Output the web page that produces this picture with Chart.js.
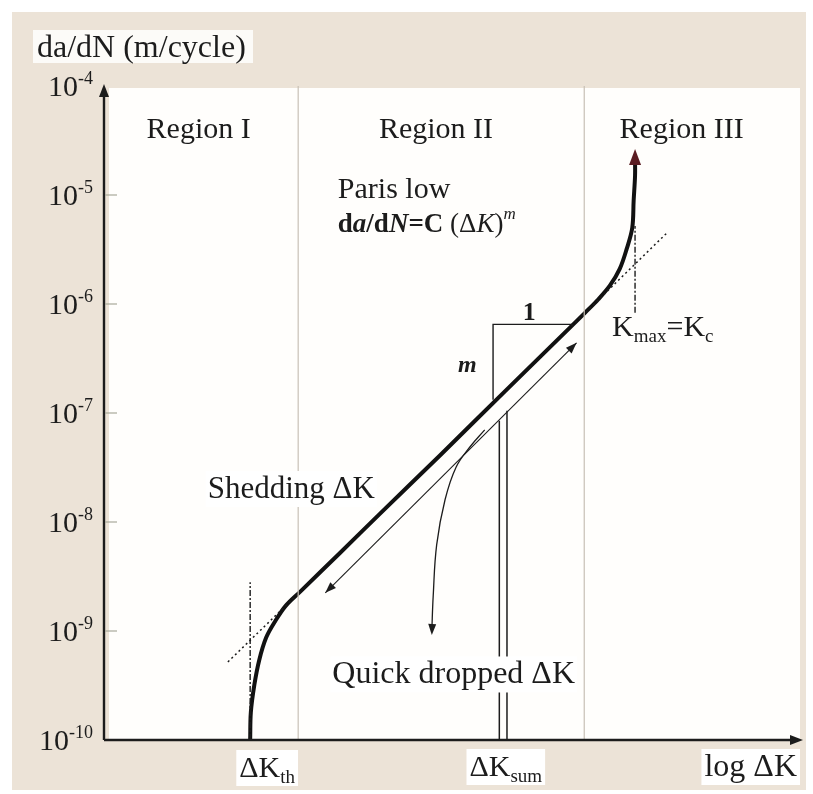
<!DOCTYPE html>
<html>
<head>
<meta charset="utf-8">
<script src="https://cdn.jsdelivr.net/npm/chart.js@4/dist/chart.umd.min.js"></script>
<style>
  body { margin: 0; background: #fff; }
  canvas { display: block; }
</style>
</head>
<body>
<canvas id="chart" width="813" height="794"></canvas>
<script>
// DATA (x = log dK in arbitrary units, y = da/dN in m/cycle)
const yTickValues = [1e-4, 1e-5, 1e-6, 1e-7, 1e-8, 1e-9, 1e-10];
const yTickExponents = ['-4', '-5', '-6', '-7', '-8', '-9', '-10'];
const xTickValues = [2.10, 5.73, 10];
const xTickLabels = [['\u0394K', 'th'], ['\u0394K', 'sum'], ['log \u0394K', '']];

const regionNames = ['Region I', 'Region II', 'Region III'];
const regionCentres = [1.36, 4.77, 8.30];
const regionBounds = [2.79, 6.90];

// main crack growth curve
const curveLogK = [2.10, 2.11, 2.16, 2.23, 2.33, 2.46, 2.61, 2.82, 3.39, 3.97, 4.83, 5.76, 6.72, 6.91, 7.10, 7.27, 7.41, 7.51, 7.59, 7.61, 7.63, 7.63];
const curveRate = [1.0e-10, 1.8e-10, 3.2e-10, 5.4e-10, 8.7e-10, 1.23e-9, 1.7e-9, 2.3e-9, 5.2e-9, 1.2e-8, 4.1e-8, 1.58e-7, 6.3e-7, 8.3e-7, 1.1e-6, 1.48e-6, 2.1e-6, 3.2e-6, 5.0e-6, 8.9e-6, 1.5e-5, 2.1e-5];

// dotted Paris extensions
const lowDotK = [1.78, 2.82];
const lowDotRate = [5.2e-10, 2.3e-9];
const highDotK = [6.72, 8.09];
const highDotRate = [6.3e-7, 4.5e-6];

// dash-dot markers for dK_th and K_c
const thMarkK = [2.10, 2.10];
const thMarkRate = [1e-10, 2.8e-9];
const kcMarkK = [7.63, 7.63];
const kcMarkRate = [8.3e-7, 5.2e-6];

// slope triangle
const triK = [5.59, 5.59, 6.72];
const triRate = [1.32e-7, 6.5e-7, 6.5e-7];

// dK_sum double line
const sumK = [5.68, 5.79];
const sumTopRate = [8.5e-8, 1.05e-7];

// shedding arrow and quick drop arrow
const shedK = [3.18, 6.79];
const shedRate = [2.24e-9, 4.4e-7];
const dropK = [5.47, 5.26, 5.06, 4.90, 4.78, 4.73, 4.71];
const dropRate = [7.0e-8, 4.9e-8, 3.2e-8, 1.6e-8, 6.2e-9, 2.1e-9, 1.0e-9];

const SERIF = '"Liberation Serif", "DejaVu Serif", serif';
const ink = '#1c1c1c';

function pts(xs, ys) {
    return xs.map((x, i) => ({x: x, y: ys[i]}));
}

function line(xs, ys, opts) {
    return Object.assign({
        data: pts(xs, ys),
        borderColor: ink,
        borderWidth: 1.3,
        pointRadius: 0,
        fill: false,
        tension: 0,
    }, opts || {});
}

const datasets = [
    line([regionBounds[0], regionBounds[0]], [1e-10, 1e-4], {borderColor: '#c8c0b6', borderWidth: 1.2}),
    line([regionBounds[1], regionBounds[1]], [1e-10, 1e-4], {borderColor: '#c8c0b6', borderWidth: 1.2}),
    line(lowDotK, lowDotRate, {borderDash: [2, 3], borderWidth: 1.5}),
    line(highDotK, highDotRate, {borderDash: [2, 3], borderWidth: 1.5}),
    line(thMarkK, thMarkRate, {borderDash: [6, 2, 2, 2], borderWidth: 1.4}),
    line(kcMarkK, kcMarkRate, {borderDash: [6, 2, 2, 2], borderWidth: 1.4}),
    line(triK, triRate, {borderWidth: 1.4}),
    line([sumK[0], sumK[0]], [1e-10, sumTopRate[0]], {borderWidth: 1.5}),
    line([sumK[1], sumK[1]], [1e-10, sumTopRate[1]], {borderWidth: 1.5}),
    line(shedK, shedRate, {borderWidth: 1.1}),
    line(dropK, dropRate, {borderWidth: 1.3, tension: 0.4}),
    line(curveLogK, curveRate, {borderWidth: 4, tension: 0.35, borderColor: '#111'}),
];

function arrowHead(ctx, x1, y1, x2, y2, len, half, color) {
    const a = Math.atan2(y2 - y1, x2 - x1);
    ctx.save();
    ctx.fillStyle = color;
    ctx.beginPath();
    ctx.moveTo(x2, y2);
    ctx.lineTo(x2 - len * Math.cos(a) + half * Math.sin(a), y2 - len * Math.sin(a) - half * Math.cos(a));
    ctx.lineTo(x2 - len * Math.cos(a) - half * Math.sin(a), y2 - len * Math.sin(a) + half * Math.cos(a));
    ctx.closePath();
    ctx.fill();
    ctx.restore();
}

// parts: [text, size, style, dy]
function drawRich(ctx, parts, x, y, align, pad) {
    let widths = [];
    let total = 0;
    parts.forEach(p => {
        ctx.font = (p[2] || '') + ' ' + p[1] + 'px ' + SERIF;
        const w = ctx.measureText(p[0]).width;
        widths.push(w);
        total += w;
    });
    let sx = x;
    if (align === 'center') sx = x - total / 2;
    if (align === 'right') sx = x - total;
    if (pad !== undefined) {
        ctx.fillStyle = '#fff';
        ctx.fillRect(sx - pad, y - 27, total + pad * 2, 36);
    }
    ctx.fillStyle = ink;
    ctx.textBaseline = 'alphabetic';
    ctx.textAlign = 'left';
    parts.forEach((p, i) => {
        ctx.font = (p[2] || '') + ' ' + p[1] + 'px ' + SERIF;
        ctx.fillText(p[0], sx, y + (p[3] || 0));
        sx += widths[i];
    });
}

const decorPlugin = {
    id: 'decor',
    beforeDraw(chart) {
        const ctx = chart.ctx;
        const a = chart.chartArea;
        ctx.save();
        ctx.fillStyle = '#fff';
        ctx.fillRect(0, 0, chart.width, chart.height);
        ctx.fillStyle = '#ece3d7';
        ctx.fillRect(12, 12, 794, 778);
        ctx.fillStyle = '#fffefc';
        ctx.fillRect(a.left + 5, a.top + 2, a.right - a.left - 5, a.bottom - a.top - 2);
        ctx.restore();
    },
    afterDatasetsDraw(chart) {
        const ctx = chart.ctx;
        const a = chart.chartArea;
        const xs = chart.scales.x;
        const ys = chart.scales.y;
        const px = v => xs.getPixelForValue(v);
        const py = v => ys.getPixelForValue(v);

        // arrow heads on the marks
        const n = curveLogK.length;
        const tipX = px(curveLogK[n - 1]);
        const tipY = py(curveRate[n - 1]);
        arrowHead(ctx, tipX, tipY + 5, tipX, tipY - 11, 16, 6, '#5a1c22');
        arrowHead(ctx, px(shedK[1]), py(shedRate[1]), px(shedK[0]), py(shedRate[0]), 11, 4, ink);
        arrowHead(ctx, px(shedK[0]), py(shedRate[0]), px(shedK[1]), py(shedRate[1]), 11, 4, ink);
        const m = dropK.length;
        arrowHead(ctx, px(dropK[m - 2]), py(dropRate[m - 2]), px(dropK[m - 1]), py(dropRate[m - 1]) + 4, 11, 4, ink);

        ctx.save();
        // axes
        ctx.strokeStyle = ink;
        ctx.lineWidth = 2.4;
        ctx.beginPath();
        ctx.moveTo(a.left, a.bottom);
        ctx.lineTo(a.left, a.top + 6);
        ctx.moveTo(a.left, a.bottom);
        ctx.lineTo(a.right - 4, a.bottom);
        ctx.stroke();
        arrowHead(ctx, a.left, a.top + 20, a.left, a.top - 2, 13, 5, ink);
        arrowHead(ctx, a.right - 20, a.bottom, a.right + 3, a.bottom, 13, 5, ink);

        // y ticks
        ctx.strokeStyle = '#a8a89a';
        ctx.lineWidth = 1.2;
        yTickValues.forEach((v, i) => {
            const y = py(v);
            if (i > 0 && i < yTickValues.length - 1) {
                ctx.beginPath();
                ctx.moveTo(a.left + 1, y);
                ctx.lineTo(a.left + 13, y);
                ctx.stroke();
            }
            drawRich(ctx, [['10', 30], [yTickExponents[i], 18, '', -12]], a.left - 11, y + 10, 'right');
        });

        // x tick labels
        drawRich(ctx, [[xTickLabels[0][0], 30], [xTickLabels[0][1], 19, '', 6]], px(xTickValues[0]) + 17, 777, 'center', 3);
        drawRich(ctx, [[xTickLabels[1][0], 30], [xTickLabels[1][1], 19, '', 6]], px(xTickValues[1]) + 3, 776, 'center', 3);
        drawRich(ctx, [[xTickLabels[2][0], 32]], px(xTickValues[2]) - 3, 776, 'right', 3);

        // y axis title
        ctx.fillStyle = '#fcfbf8';
        ctx.fillRect(33, 30, 220, 33);
        drawRich(ctx, [['da/dN (m/cycle)', 32]], 37, 57, 'left');

        // region names
        regionNames.forEach((t, i) => {
            drawRich(ctx, [[t, 30]], px(regionCentres[i]), py(3.3e-5), 'center');
        });

        // annotations
        drawRich(ctx, [['Paris low', 30]], px(3.36), py(9.3e-6), 'left');
        drawRich(ctx, [['d', 27, 'bold'], ['a', 27, 'bold italic'], ['/d', 27, 'bold'], ['N', 27, 'bold italic'],
            ['=', 27, 'bold'], ['C', 27, 'bold'], [' (\u0394', 27], ['K', 27, 'italic'], [')', 27], ['m', 17, 'italic', -13]],
            px(3.36), py(4.6e-6), 'left');
        drawRich(ctx, [['Shedding \u0394K', 31]], px(1.49), py(1.66e-8), 'left', 2);
        drawRich(ctx, [['Quick dropped \u0394K', 32]], px(3.28), py(3.3e-10), 'left', 2);
        drawRich(ctx, [['K', 30], ['max', 19, '', 6], ['=K', 30], ['c', 19, '', 6]], px(7.30), py(5.1e-7), 'left');
        drawRich(ctx, [['1', 26, 'bold']], px(6.11), py(7.1e-7), 'center');
        drawRich(ctx, [['m', 24, 'bold italic']], px(5.22), py(2.4e-7), 'center');
        ctx.restore();
    }
};

new Chart(document.getElementById('chart').getContext('2d'), {
    type: 'line',
    data: {datasets: datasets},
    options: {
        responsive: false,
        animation: false,
        devicePixelRatio: 1,
        layout: {padding: {left: 104, top: 86, right: 13, bottom: 54}},
        scales: {
            x: {type: 'linear', min: 0, max: 10, display: false},
            y: {type: 'logarithmic', min: 1e-10, max: 1e-4, display: false},
        },
        plugins: {
            legend: {display: false},
            tooltip: {enabled: false},
        },
    },
    plugins: [decorPlugin],
});
</script>
</body>
</html>
